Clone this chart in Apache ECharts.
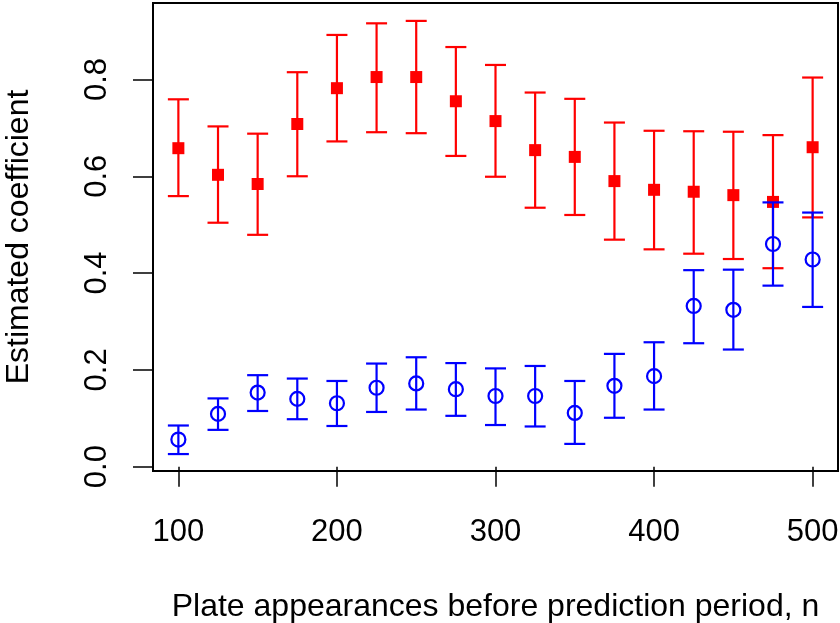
<!DOCTYPE html>
<html>
<head>
<meta charset="utf-8">
<script src="https://cdn.jsdelivr.net/npm/echarts@6/dist/echarts.min.js"></script>
<style>
html,body{margin:0;padding:0;background:#fff;}
#chart{width:840px;height:623px;}
</style>
</head>
<body>
<div id="chart"></div>
<script>
const nValues = [100,125,150,175,200,225,250,275,300,325,350,375,400,425,450,475,500];
const redEst  = [0.658,0.603,0.584,0.708,0.782,0.805,0.805,0.755,0.714,0.654,0.640,0.590,0.572,0.568,0.561,0.547,0.660];
const redLow  = [0.559,0.504,0.479,0.600,0.672,0.691,0.689,0.642,0.599,0.535,0.520,0.469,0.449,0.440,0.429,0.410,0.515];
const redHigh = [0.759,0.703,0.688,0.815,0.892,0.916,0.921,0.867,0.830,0.773,0.760,0.711,0.694,0.693,0.692,0.685,0.804];
const blueEst  = [0.056,0.109,0.153,0.140,0.131,0.163,0.172,0.160,0.146,0.146,0.111,0.167,0.187,0.332,0.324,0.460,0.428];
const blueLow  = [0.026,0.076,0.115,0.098,0.084,0.113,0.118,0.105,0.086,0.083,0.047,0.101,0.118,0.255,0.242,0.374,0.330];
const blueHigh = [0.085,0.141,0.189,0.182,0.177,0.213,0.226,0.214,0.203,0.208,0.177,0.233,0.257,0.406,0.407,0.546,0.525];
const xTicks = [100,200,300,400,500];
const yTicks = [0,0.2,0.4,0.6,0.8];

const FONT = '"Liberation Sans", Arial, Helvetica, sans-serif';
const FS = 31;
const FSN = 32;

function errData(low, high){
  return nValues.map((n,i)=>[n, low[i], high[i]]);
}
function errRender(color){
  return function(params, api){
    const x = api.value(0);
    const lo = api.coord([x, api.value(1)]);
    const hi = api.coord([x, api.value(2)]);
    const hw = 10.5;
    const st = {stroke: color, lineWidth: 2.2};
    return {
      type: 'group',
      children: [
        {type:'line', shape:{x1:lo[0], y1:lo[1], x2:hi[0], y2:hi[1]}, style: st},
        {type:'line', shape:{x1:lo[0]-hw, y1:lo[1], x2:lo[0]+hw, y2:lo[1]}, style: st},
        {type:'line', shape:{x1:hi[0]-hw, y1:hi[1], x2:hi[0]+hw, y2:hi[1]}, style: st}
      ]
    };
  };
}

const chart = echarts.init(document.getElementById('chart'), null, {renderer:'canvas'});
chart.setOption({
  animation: false,
  backgroundColor: '#fff',
  grid: {left:153, right:2, top:3, bottom:152, containLabel:false, outerBoundsMode:'none',
    show:true, borderColor:'#000', borderWidth:2, backgroundColor:'transparent'},
  xAxis: {
    type:'value', min:84, max:516,
    axisLine:{show:false},
    splitLine:{show:false},
    axisTick:{show:true, length:20, lineStyle:{color:'#000', width:1.5}, customValues: xTicks},
    axisLabel:{show:true, customValues: xTicks, margin:46, color:'#000', fontSize:FS, fontFamily:FONT},
    name:'Plate appearances before prediction period, n',
    nameLocation:'middle', nameGap:120,
    nameTextStyle:{color:'#000', fontSize:FSN, fontFamily:FONT}
  },
  yAxis: {
    type:'value', min:-0.009, max:0.958,
    axisLine:{show:false},
    splitLine:{show:false},
    axisTick:{show:true, length:20, lineStyle:{color:'#000', width:1.5}, customValues: yTicks},
    axisLabel:{show:true, customValues: yTicks, rotate:90, margin:40, color:'#000', fontSize:FS, fontFamily:FONT,
      formatter: v => Number(v).toFixed(1)},
    name:'Estimated coefficient',
    nameLocation:'middle', nameGap:118, nameRotate:90,
    nameTextStyle:{color:'#000', fontSize:FSN, fontFamily:FONT}
  },
  series: [
    {type:'custom', name:'redErr', data: errData(redLow, redHigh), renderItem: errRender('#ff0000'), z:2},
    {type:'scatter', name:'red', data: nValues.map((n,i)=>[n, redEst[i]]), symbol:'rect', symbolSize:12,
      itemStyle:{color:'#ff0000', opacity:1}, z:3},
    {type:'custom', name:'blueErr', data: errData(blueLow, blueHigh), renderItem: errRender('#0000ff'), z:4},
    {type:'scatter', name:'blue', data: nValues.map((n,i)=>[n, blueEst[i]]), symbol:'circle', symbolSize:14,
      itemStyle:{color:'rgba(0,0,0,0)', borderColor:'#0000ff', borderWidth:2.2, opacity:1}, z:5}
  ]
});
</script>
</body>
</html>
